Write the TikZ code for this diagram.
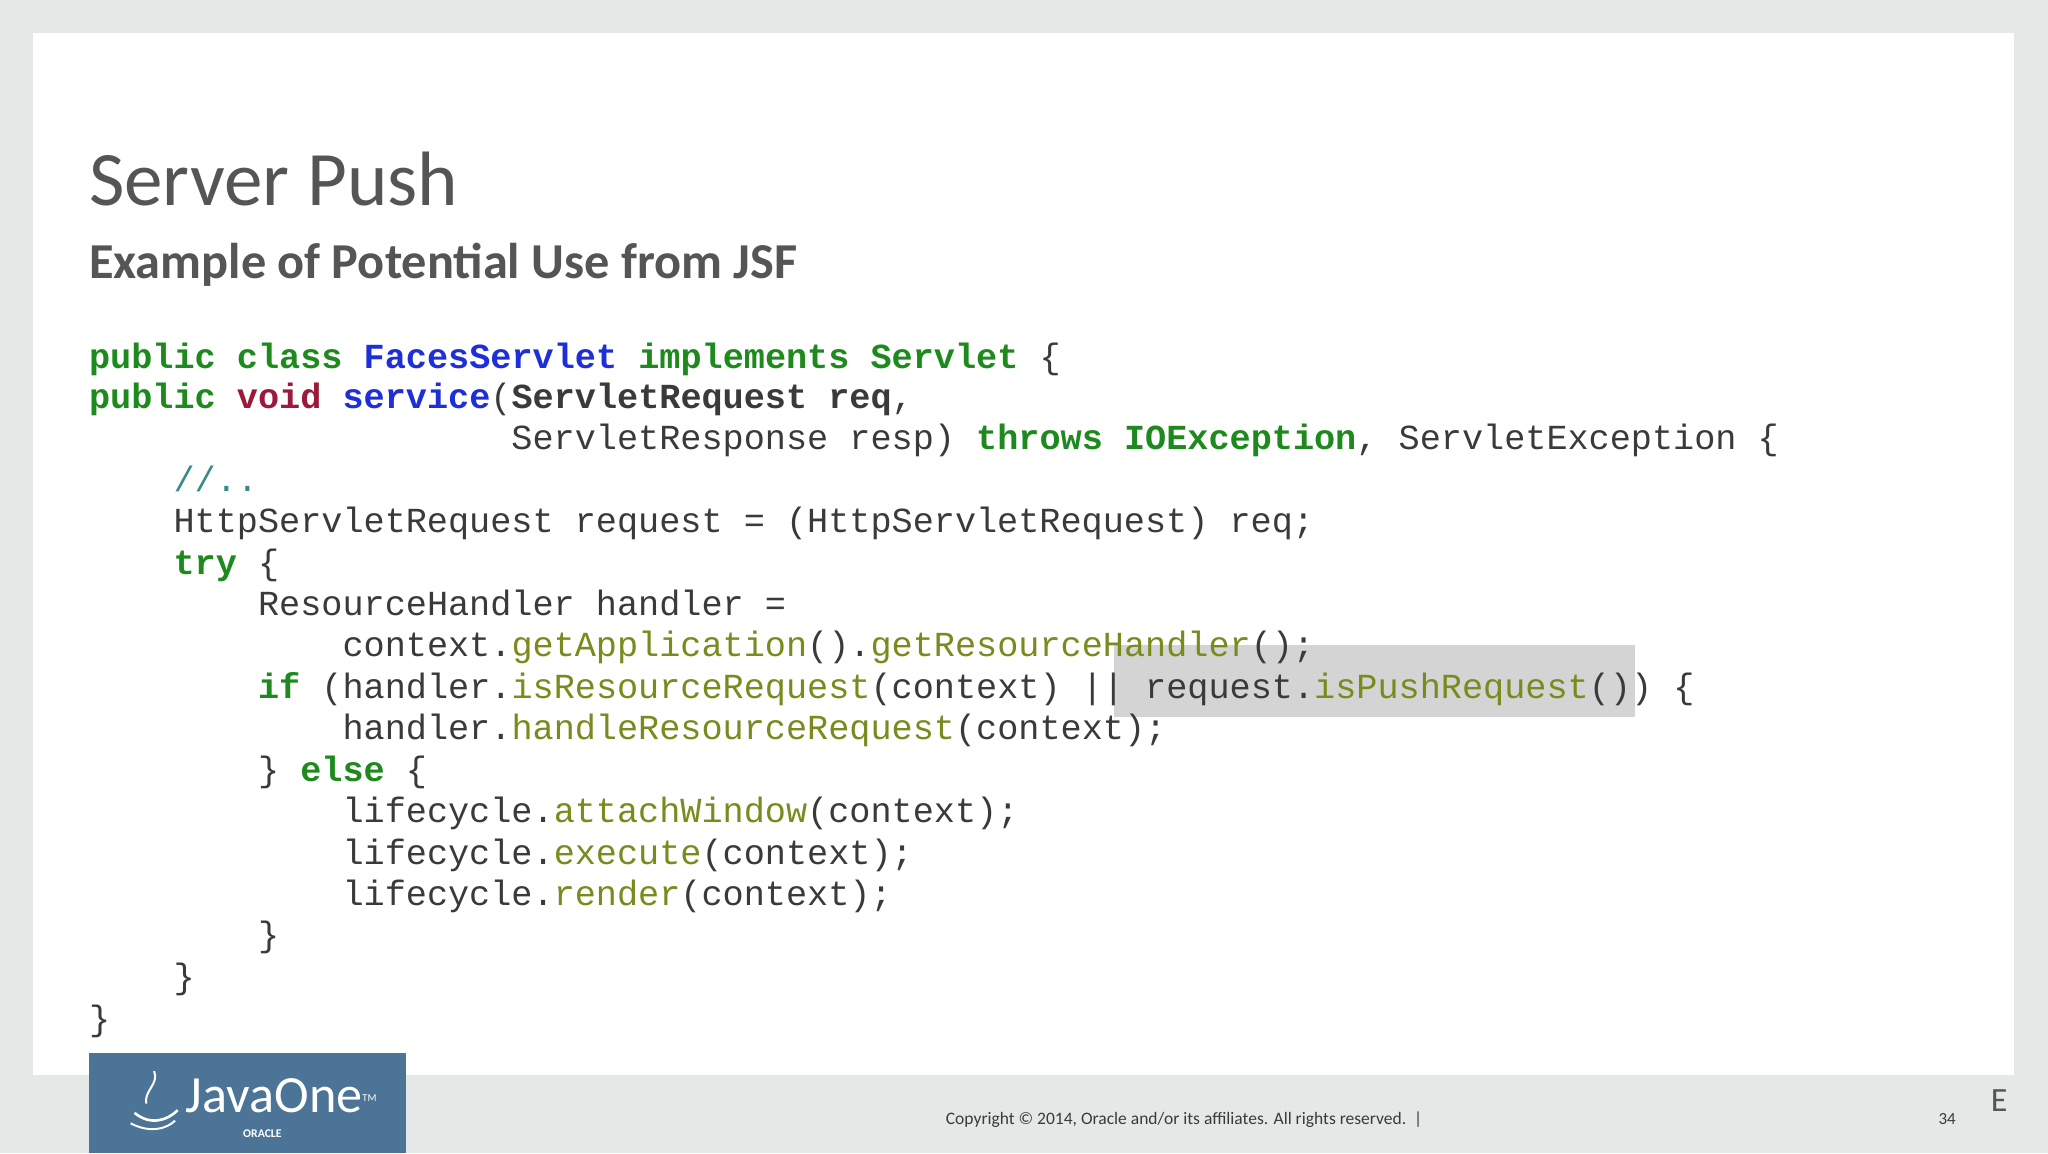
\documentclass[tikz,border=0pt]{standalone}
\usepackage{fontspec}
\setmainfont{Carlito}
\newfontfamily\codefont{Liberation Mono}
\definecolor{bgc}{HTML}{E4E9E8}
\definecolor{kw}{HTML}{1E8A1E}
\definecolor{kwb}{HTML}{1F2FD8}
\definecolor{kwr}{HTML}{9B1A3C}
\definecolor{mth}{HTML}{7A8A1C}
\definecolor{cmt}{HTML}{3A8A8A}
\definecolor{txt}{HTML}{3A3A3A}
\definecolor{ttl}{HTML}{555555}
\definecolor{logo}{HTML}{4C7497}
\newcommand{\K}[1]{\textcolor{kw}{\bfseries #1}}
\newcommand{\B}[1]{\textcolor{kwb}{#1}}
\newcommand{\R}[1]{\textcolor{kwr}{\bfseries #1}}
\newcommand{\M}[1]{\textcolor{mth}{#1}}
\begin{document}
\begin{tikzpicture}[x=1pt,y=-1pt,
  cl/.style={anchor=base west,inner sep=0pt,font=\codefont\fontsize{26.95}{30}\selectfont,text=txt}]
\useasboundingbox (0,0) rectangle (1568,883);
\fill[bgc] (0,0) rectangle (1568,883);
\fill[white] (25,25) rectangle (1542,823);
\fill[black!17] (853,494) rectangle (1252,549);
\node[anchor=base west,inner sep=0pt,text=ttl,font=\fontsize{59}{60}\selectfont] (title) at (68,157) {Server Push};
\node[anchor=base west,inner sep=0pt,text=ttl,font=\bfseries\fontsize{38.5}{40}\selectfont] (sub) at (68,213) {Example of Potential Use from JSF};
\def\cw{16.17}
\node[cl] (l1) at (68,282) {\K{public class} \B{\bfseries FacesServlet} \K{implements Servlet} \{};
\node[cl] (l2) at (68,313) {\K{public} \R{void} \B{\bfseries service}(\textbf{ServletRequest req},};
\node[cl] (l3) at (68+20*\cw,344) {ServletResponse resp) \K{throws IOException}, ServletException \{};
\node[cl] (l4) at (68+4*\cw,376) {\textcolor{cmt}{//..}};
\node[cl] (l5) at (68+4*\cw,408) {HttpServletRequest request = (HttpServletRequest) req;};
\node[cl] (l6) at (68+4*\cw,440) {\K{try} \{};
\node[cl] (l7) at (68+8*\cw,471) {ResourceHandler handler =};
\node[cl] (l8) at (68+12*\cw,503) {context.\M{getApplication}().\M{getResourceHandler}();};
\node[cl] (l9) at (68+8*\cw,535) {\K{if} (handler.\M{isResourceRequest}(context) || request.\M{isPushRequest}()) \{};
\node[cl] (l10) at (68+12*\cw,566) {handler.\M{handleResourceRequest}(context);};
\node[cl] (l11) at (68+8*\cw,598) {\} \K{else} \{};
\node[cl] (l12) at (68+12*\cw,630) {lifecycle.\M{attachWindow}(context);};
\node[cl] (l13) at (68+12*\cw,662) {lifecycle.\M{execute}(context);};
\node[cl] (l14) at (68+12*\cw,693) {lifecycle.\M{render}(context);};
\node[cl] (l15) at (68+8*\cw,725) {\}};
\node[cl] (l16) at (68+4*\cw,757) {\}};
\node[cl] (l17) at (68,789) {\}};
\fill[logo] (68,806) rectangle (311,883);
\node[anchor=base west,inner sep=0pt,text=white,font=\fontsize{40}{40}\selectfont] (jo) at (142,852) {JavaOne\textsuperscript{\fontsize{8}{8}\selectfont TM}};
\node[anchor=base west,inner sep=0pt,text=white,font=\bfseries\fontsize{9}{9}\selectfont] (or) at (186,871) {ORACLE};
\draw[white,line width=2pt] (103,852) .. controls (115,862) and (128,858) .. (136,850);
\draw[white,line width=1.5pt] (112,845) .. controls (110,835) and (122,830) .. (118,820);
\draw[white,line width=1.5pt] (100,860) .. controls (115,868) and (128,864) .. (134,858);
\node[anchor=base west,inner sep=0pt,text=txt,font=\fontsize{13.4}{14}\selectfont] (copy) at (724,861) {Copyright © 2014, Oracle and/or its affiliates. All rights reserved.~~|};
\node[anchor=base west,inner sep=0pt,text=txt,font=\fontsize{13}{13}\selectfont] (pg) at (1484,861) {34};
\node[anchor=base west,inner sep=0pt,text=ttl,font=\fontsize{26}{26}\selectfont] (e) at (1524,851) {E};
\end{tikzpicture}
\end{document}
